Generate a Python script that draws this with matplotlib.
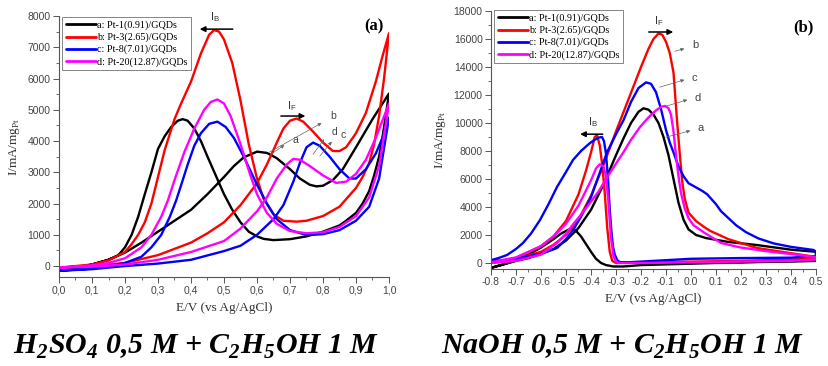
import matplotlib
matplotlib.use("Agg")
import matplotlib.pyplot as plt
from matplotlib.ticker import MultipleLocator, FuncFormatter

# ---------------- data: panel (a) H2SO4 ----------------
labels = ["a: Pt-1(0.91)/GQDs", "b: Pt-3(2.65)/GQDs", "c: Pt-8(7.01)/GQDs", "d: Pt-20(12.87)/GQDs"]
colors = ["#000000", "#ff0000", "#0000ff", "#ff00ff"]

a_black_fw_v = [0, .05, .1, .15, .2, .25, .3, .35, .4, .45, .5, .53, .56, .6, .63, .66, .7, .73, .76, .78, .8, .83, .86, .9, .95, 1.0]
a_black_fw_i = [-100, -50, 50, 200, 430, 750, 1100, 1450, 1800, 2300, 2850, 3200, 3480, 3660, 3620, 3450, 3100, 2800, 2600, 2550, 2570, 2750, 3100, 3800, 4700, 5520]
a_black_bw_v = [1.0, .99, .98, .97, .955, .94, .92, .9, .87, .85, .8, .75, .7, .65, .62, .6, .575, .55, .525, .5, .475, .45, .43, .41, .39, .375, .36, .34, .32, .3, .28, .26, .24, .22, .2, .18, .15, .1, .05, 0]
a_black_bw_i = [5520, 4800, 4100, 3500, 2900, 2400, 2000, 1700, 1450, 1300, 1100, 950, 860, 830, 870, 950, 1100, 1400, 1800, 2300, 2900, 3500, 4000, 4400, 4650, 4700, 4650, 4450, 4150, 3750, 3000, 2300, 1580, 1000, 600, 350, 200, 50, -50, -100]

a_red_fw_v = [0, .1, .2, .3, .4, .45, .5, .55, .6, .63, .66, .68, .7, .72, .74, .77, .8, .83, .85, .87, .9, .93, .96, .98, 1.0]
a_red_fw_i = [-50, 0, 100, 350, 750, 1050, 1400, 1950, 2650, 3250, 3950, 4400, 4650, 4720, 4620, 4300, 3950, 3680, 3680, 3800, 4250, 4900, 5900, 6700, 7450]
a_red_bw_v = [1.0, .985, .97, .955, .94, .92, .9, .85, .8, .75, .72, .68, .65, .62, .6, .575, .55, .525, .5, .485, .47, .455, .43, .4, .37, .35, .32, .3, .28, .26, .24, .22, .2, .15, .1, 0]
a_red_bw_i = [7450, 6000, 4800, 3900, 3300, 2850, 2500, 1900, 1600, 1450, 1420, 1450, 1650, 2150, 2800, 3900, 5300, 6500, 7250, 7500, 7550, 7400, 6800, 5900, 5200, 4700, 3700, 2850, 2000, 1400, 1000, 700, 450, 180, 50, -50]

a_blue_fw_v = [0, .1, .2, .3, .4, .5, .55, .6, .65, .68, .71, .73, .75, .77, .79, .82, .85, .88, .9, .93, .96, .98, 1.0]
a_blue_fw_i = [-150, -100, 0, 80, 200, 480, 650, 1000, 1500, 1950, 2700, 3300, 3800, 3950, 3850, 3500, 3100, 2800, 2800, 3100, 3600, 4100, 4750]
a_blue_bw_v = [1.0, .97, .94, .9, .85, .8, .75, .7, .66, .63, .6, .56, .53, .505, .48, .455, .43, .41, .39, .372, .355, .336, .31, .28, .25, .2, .15, .1, 0]
a_blue_bw_i = [4750, 2800, 1900, 1450, 1150, 1020, 990, 1150, 1500, 2000, 2600, 3500, 4100, 4450, 4620, 4550, 4250, 3850, 3250, 2650, 2100, 1580, 1000, 600, 300, 100, 0, -80, -150]

a_mag_fw_v = [0, .1, .2, .3, .4, .5, .55, .6, .63, .66, .69, .71, .73, .76, .8, .84, .87, .9, .93, .96, 1.0]
a_mag_fw_i = [-50, -20, 50, 200, 450, 800, 1200, 1750, 2200, 2800, 3250, 3430, 3400, 3200, 2900, 2660, 2700, 2950, 3400, 4100, 5200]
a_mag_bw_v = [1.0, .97, .94, .9, .85, .8, .75, .7, .66, .63, .6, .58, .55, .52, .5, .48, .46, .44, .41, .38, .35, .33, .31, .28, .25, .2, .15, .1, 0]
a_mag_bw_i = [5200, 3200, 2200, 1600, 1250, 1080, 1050, 1120, 1350, 1700, 2300, 2900, 3900, 4800, 5200, 5330, 5250, 5000, 4400, 3650, 2750, 2100, 1580, 1000, 600, 250, 100, 20, -50]

# ---------------- data: panel (b) NaOH ----------------
b_black_fw_v = [-.8, -.75, -.7, -.65, -.6, -.55, -.5, -.45, -.4, -.35, -.3, -.27, -.24, -.21, -.19, -.17, -.15, -.13, -.11, -.09, -.07, -.05, -.03, -.01, .02, .06, .15, .26, .4, .5]
b_black_fw_i = [-350, -100, 150, 350, 650, 1000, 1600, 2500, 3800, 5600, 7700, 8900, 10000, 10800, 11050, 10950, 10600, 10000, 9000, 7700, 6000, 4300, 3100, 2400, 2000, 1780, 1500, 1290, 950, 800]
b_black_bw_v = [.5, .4, .3, .2, .1, 0, -.1, -.2, -.27, -.31, -.34, -.36, -.38, -.4, -.42, -.44, -.46, -.475, -.49, -.52, -.55, -.6, -.65, -.7, -.75, -.8]
b_black_bw_i = [150, 100, 80, 30, 0, -50, -100, -150, -250, -250, -150, 0, 300, 800, 1350, 1900, 2300, 2450, 2380, 2100, 1700, 1100, 600, 200, -100, -350]

b_red_fw_v = [-.8, -.7, -.6, -.55, -.5, -.45, -.4, -.35, -.3, -.25, -.2, -.17, -.15, -.13, -.115, -.1, -.085, -.07, -.056, -.045, -.035, -.025, -.01, .02, .05, .076, .15, .264, .4, .5]
b_red_fw_i = [0, 250, 800, 1300, 2000, 3100, 4800, 7000, 9400, 11700, 14000, 15300, 16000, 16400, 16300, 15800, 15000, 13600, 10200, 7800, 5800, 4600, 3600, 3000, 2600, 2300, 1700, 1070, 700, 430]
b_red_bw_v = [.5, .4, .2, 0, -.2, -.3, -.315, -.325, -.335, -.345, -.355, -.365, -.376, -.385, -.4, -.42, -.45, -.5, -.55, -.6, -.7, -.8]
b_red_bw_i = [350, 250, 150, 100, 50, 0, 150, 800, 2500, 5000, 7000, 8400, 9140, 9000, 7900, 6600, 4900, 3000, 1900, 1200, 350, 0]

b_blue_fw_v = [-.8, -.7, -.6, -.536, -.5, -.47, -.44, -.4, -.37, -.336, -.3, -.27, -.24, -.21, -.18, -.16, -.14, -.12, -.1, -.085, -.07, -.05, -.03, -.01, .02, .045, .065, .085, .1, .12, .144, .18, .22, .27, .33, .4, .49, .5]
b_blue_fw_i = [100, 300, 650, 1070, 1700, 2400, 3300, 4700, 6200, 7900, 9200, 10200, 11500, 12500, 12900, 12800, 12200, 11000, 9500, 8600, 7900, 6900, 6200, 5700, 5400, 5150, 4900, 4500, 4200, 3700, 3300, 2700, 2200, 1750, 1400, 1150, 930, 800]
b_blue_bw_v = [.5, .4, .2, 0, -.1, -.2, -.25, -.285, -.295, -.305, -.312, -.318, -.325, -.332, -.34, -.348, -.356, -.37, -.385, -.404, -.44, -.472, -.5, -.536, -.57, -.604, -.64, -.672, -.7, -.736, -.77, -.8]
b_blue_bw_i = [500, 380, 350, 300, 200, 100, 50, 60, 200, 600, 1150, 2200, 3800, 6000, 7800, 8700, 9000, 8950, 8800, 8570, 8000, 7360, 6500, 5430, 4200, 3070, 2100, 1430, 1000, 570, 350, 200]

b_mag_fw_v = [-.8, -.7, -.6, -.536, -.5, -.47, -.44, -.404, -.37, -.34, -.3, -.272, -.24, -.204, -.17, -.14, -.12, -.104, -.09, -.08, -.07, -.06, -.05, -.04, -.025, -.01, .01, .05, .12, .2, .32, .5]
b_mag_fw_i = [0, 150, 600, 1430, 2100, 2800, 3450, 4290, 5100, 6000, 7100, 7860, 8800, 9710, 10400, 10900, 11150, 11220, 11050, 10600, 9400, 7700, 6200, 5000, 3900, 3200, 2700, 2200, 1430, 1100, 800, 430]
b_mag_bw_v = [.5, .4, .2, 0, -.2, -.29, -.3, -.31, -.32, -.33, -.34, -.35, -.365, -.38, -.4, -.45, -.5, -.55, -.6, -.7, -.8]
b_mag_bw_i = [250, 150, 100, 50, 0, 0, 100, 500, 1800, 4300, 6200, 6900, 7050, 6750, 5900, 4100, 2800, 1900, 1200, 400, 50]

title_a = r"H$_\mathregular{2}$SO$_\mathregular{4}$ 0,5 M + C$_\mathregular{2}$H$_\mathregular{5}$OH 1 M"
title_b = r"NaOH 0,5 M + C$_\mathregular{2}$H$_\mathregular{5}$OH 1 M"
xlabel = "E/V (vs Ag/AgCl)"
ylabel = r"I/mA/mg$_\mathregular{Pt}$"

curves_a = [(a_black_fw_v, a_black_fw_i, a_black_bw_v, a_black_bw_i),
            (a_red_fw_v, a_red_fw_i, a_red_bw_v, a_red_bw_i),
            (a_blue_fw_v, a_blue_fw_i, a_blue_bw_v, a_blue_bw_i),
            (a_mag_fw_v, a_mag_fw_i, a_mag_bw_v, a_mag_bw_i)]
curves_b = [(b_black_fw_v, b_black_fw_i, b_black_bw_v, b_black_bw_i),
            (b_red_fw_v, b_red_fw_i, b_red_bw_v, b_red_bw_i),
            (b_blue_fw_v, b_blue_fw_i, b_blue_bw_v, b_blue_bw_i),
            (b_mag_fw_v, b_mag_fw_i, b_mag_bw_v, b_mag_bw_i)]

W, H = 829, 366
fig = plt.figure(figsize=(W / 100, H / 100), dpi=100)
serif = "Liberation Serif"
sans = "Liberation Sans"
tick_col = "#444444"


def px(l, t, w, h):
    return [l / W, 1 - (t + h) / H, w / W, h / H]


def style(ax):
    for s in ["top", "right"]:
        ax.spines[s].set_visible(False)
    for s in ["left", "bottom"]:
        ax.spines[s].set_color("#555555")
        ax.spines[s].set_linewidth(0.8)
    ax.tick_params(which="major", direction="out", length=4, width=0.7, color="#555555",
                   labelsize=7.5, labelcolor=tick_col, pad=2)
    ax.tick_params(which="minor", direction="out", length=2.2, width=0.6, color="#555555")
    for lab in ax.get_xticklabels() + ax.get_yticklabels():
        lab.set_family(sans)


def draw(ax, curves):
    for (fv, fi, bv, bi), c, lab in zip(curves, colors, labels):
        ax.plot(fv + bv, fi + bi, color=c, lw=1.7, label=lab,
                solid_joinstyle="round", solid_capstyle="round")


def legend(ax, x, y):
    leg = ax.legend(loc="upper left", bbox_to_anchor=(x / W, 1 - y / H), bbox_transform=fig.transFigure,
                    borderaxespad=0, prop={"family": serif, "size": 7.3}, frameon=True, fancybox=False,
                    edgecolor="#666666", handlelength=3.0, handletextpad=0.1, labelspacing=0.25,
                    borderpad=0.35)
    leg.get_frame().set_linewidth(0.7)
    for ln in leg.get_lines():
        ln.set_linewidth(2.0)


# ---------------- panel (a) ----------------
ax1 = fig.add_axes(px(59, 16, 330, 261))
draw(ax1, curves_a)
ax1.set_xlim(0, 1.0)
ax1.set_ylim(-350, 8000)
ax1.xaxis.set_major_locator(MultipleLocator(0.1))
ax1.xaxis.set_minor_locator(MultipleLocator(0.05))
ax1.yaxis.set_major_locator(MultipleLocator(1000))
ax1.yaxis.set_minor_locator(MultipleLocator(500))
ax1.xaxis.set_major_formatter(FuncFormatter(lambda v, p: f"{v:.1f}".replace(".", ",")))
style(ax1)
ax1.set_xlabel(xlabel, family=serif, fontsize=9.5, color="#333333", labelpad=5)
ax1.set_ylabel(ylabel, family=serif, fontsize=9.5, color="#333333", labelpad=4)
legend(ax1, 62, 17)

ax1.text(0.985, 7680, "(a)", family=serif, fontsize=12, fontweight="bold", ha="right", va="center")

arr = dict(arrowstyle="-|>", color="black", lw=1.1, mutation_scale=8)
ax1.annotate("", xy=(0.418, 7580), xytext=(0.535, 7580), arrowprops=arr, annotation_clip=False)
ax1.text(0.473, 7960, r"I$_\mathregular{B}$", family=sans, fontsize=8, ha="center", va="center", color="#333333")
ax1.annotate("", xy=(0.755, 4800), xytext=(0.664, 4800), arrowprops=arr)
ax1.text(0.705, 5120, r"I$_\mathregular{F}$", family=sans, fontsize=8, ha="center", va="center", color="#333333")

lead = dict(arrowstyle="-|>", color="#666666", lw=0.5, mutation_scale=5)
leaders_a = [("a", (0.635, 3530), (0.69, 3920), (0.708, 4030)),
             ("b", (0.63, 3600), (0.803, 4620), (0.823, 4800)),
             ("d", (0.765, 3500), (0.808, 4130), (0.826, 4300)),
             ("c", (0.785, 3450), (0.832, 4050), (0.853, 4190))]
for t, s, e, tp in leaders_a:
    ax1.annotate("", xy=e, xytext=s, arrowprops=lead)
    ax1.text(tp[0], tp[1], t, family=sans, fontsize=7.5, color="#444444", ha="left", va="center")

# ---------------- panel (b) ----------------
ax2 = fig.add_axes(px(491, 11, 325, 258))
draw(ax2, curves_b)
ax2.set_xlim(-0.8, 0.5)
ax2.set_ylim(-430, 18000)
ax2.xaxis.set_major_locator(MultipleLocator(0.1))
ax2.xaxis.set_minor_locator(MultipleLocator(0.05))
ax2.yaxis.set_major_locator(MultipleLocator(2000))
ax2.yaxis.set_minor_locator(MultipleLocator(1000))
ax2.xaxis.set_major_formatter(FuncFormatter(lambda v, p: f"{v:.1f}" if abs(v) > 1e-9 else "0.0"))
style(ax2)
ax2.set_xlabel(xlabel, family=serif, fontsize=9.5, color="#333333", labelpad=4)
ax2.set_ylabel(ylabel, family=serif, fontsize=9.5, color="#333333", labelpad=4)
legend(ax2, 494, 10)

ax2.text(0.49, 16850, "(b)", family=serif, fontsize=12, fontweight="bold", ha="right", va="center")

ax2.annotate("", xy=(-0.06, 16500), xytext=(-0.18, 16500), arrowprops=arr)
ax2.text(-0.128, 17250, r"I$_\mathregular{F}$", family=sans, fontsize=8, ha="center", va="center", color="#333333")
ax2.annotate("", xy=(-0.455, 9200), xytext=(-0.342, 9200), arrowprops=arr)
ax2.text(-0.392, 10050, r"I$_\mathregular{B}$", family=sans, fontsize=8, ha="center", va="center", color="#333333")

leaders_b = [("b", (-0.076, 15070), (-0.016, 15360), (0.004, 15570)),
             ("c", (-0.136, 12500), (-0.016, 13140), (0.004, 13210)),
             ("d", (-0.112, 11140), (-0.004, 11710), (0.016, 11790)),
             ("a", (-0.112, 8930), (0.008, 9500), (0.028, 9640))]
for t, s, e, tp in leaders_b:
    ax2.annotate("", xy=e, xytext=s, arrowprops=lead)
    ax2.text(tp[0], tp[1], t, family=sans, fontsize=8, color="#444444", ha="left", va="center")

# ---------------- bottom captions ----------------
fig.text(196 / W, 1 - 347 / H, title_a, family=serif, fontsize=21.5, fontweight="bold", fontstyle="italic",
         ha="center", va="center")
fig.text(622 / W, 1 - 347 / H, title_b, family=serif, fontsize=21.5, fontweight="bold", fontstyle="italic",
         ha="center", va="center")

fig.savefig("out.png", dpi=100)
